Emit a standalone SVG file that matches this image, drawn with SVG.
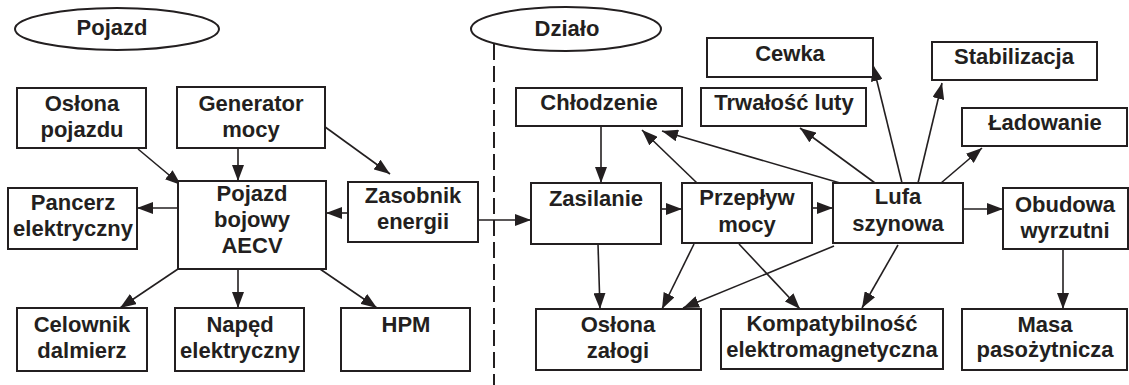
<svg xmlns="http://www.w3.org/2000/svg" width="1129" height="385" viewBox="0 0 1129 385">
<defs>
<style>
.box{fill:#fff;stroke:#231f20;stroke-width:2}
.ell{fill:#fff;stroke:#231f20;stroke-width:2}
.t{font-family:"Liberation Sans",Arial,sans-serif;font-weight:bold;font-size:22px;fill:#231f20;text-anchor:middle}
.c{fill:none;stroke:#231f20;stroke-width:1.6;marker-end:url(#ah)}
.dash{fill:none;stroke:#231f20;stroke-width:2;stroke-dasharray:16 6}
</style>
<marker id="ah" markerUnits="userSpaceOnUse" markerWidth="16" markerHeight="12" refX="16" refY="6" orient="auto">
<path d="M0,0 L16,6 L0,12 z" fill="#231f20"/>
</marker>
</defs>
<rect width="1129" height="385" fill="#fff"/>
<line class="dash" x1="494" y1="44" x2="494" y2="385"/>
<g id="connectors">
<line class="c" x1="138" y1="149" x2="181" y2="185"/>
<line class="c" x1="238" y1="148" x2="238" y2="181"/>
<line class="c" x1="321" y1="124" x2="390" y2="174"/>
<line class="c" x1="178" y1="208" x2="137" y2="208"/>
<line class="c" x1="348" y1="213" x2="326" y2="213"/>
<line class="c" x1="178" y1="269" x2="120" y2="308"/>
<line class="c" x1="238" y1="269" x2="238" y2="308"/>
<line class="c" x1="320" y1="269" x2="377" y2="308"/>
<line class="c" x1="478" y1="220" x2="531" y2="220"/>
<line class="c" x1="601" y1="126" x2="601" y2="183"/>
<line class="c" x1="661" y1="209" x2="682" y2="209"/>
<line class="c" x1="812" y1="208" x2="833" y2="208"/>
<line class="c" x1="963" y1="209" x2="1003" y2="209"/>
<line class="c" x1="697" y1="183" x2="642" y2="130"/>
<line class="c" x1="840" y1="183" x2="662" y2="131"/>
<line class="c" x1="902" y1="183" x2="873" y2="65"/>
<line class="c" x1="918" y1="183" x2="942" y2="83"/>
<line class="c" x1="875" y1="183" x2="800" y2="128"/>
<line class="c" x1="941" y1="183" x2="982" y2="148"/>
<line class="c" x1="598" y1="244" x2="600" y2="309"/>
<line class="c" x1="694" y1="244" x2="662" y2="309"/>
<line class="c" x1="834" y1="246" x2="683" y2="308"/>
<line class="c" x1="739" y1="244" x2="800" y2="309"/>
<line class="c" x1="898" y1="245" x2="862" y2="308"/>
<line class="c" x1="1063" y1="249" x2="1063" y2="309"/>
</g>
<g id="pojazd-label"><ellipse class="ell" cx="117" cy="29" rx="102" ry="21"/><text class="t" x="112" y="35">Pojazd</text></g>
<g id="dzialo-label"><ellipse class="ell" cx="566" cy="29" rx="95" ry="22"/><text class="t" x="567" y="36">Działo</text></g>
<g id="oslona-pojazdu"><rect class="box" x="17" y="88" width="129" height="60"/><text class="t" x="82" y="111">Osłona</text><text class="t" x="82" y="137">pojazdu</text></g>
<g id="generator"><rect class="box" x="177" y="87" width="148" height="61"/><text class="t" x="251" y="111">Generator</text><text class="t" x="251" y="137">mocy</text></g>
<g id="pancerz"><rect class="box" x="8" y="188" width="129" height="61"/><text class="t" x="73" y="210">Pancerz</text><text class="t" x="73" y="236">elektryczny</text></g>
<g id="pojazd-bojowy"><rect class="box" x="178" y="181" width="148" height="88"/><text class="t" x="252" y="201">Pojazd</text><text class="t" x="252" y="227">bojowy</text><text class="t" x="252" y="253">AECV</text></g>
<g id="zasobnik"><rect class="box" x="348" y="182" width="130" height="60"/><text class="t" x="413" y="203">Zasobnik</text><text class="t" x="413" y="229">energii</text></g>
<g id="celownik"><rect class="box" x="17" y="308" width="130" height="63"/><text class="t" x="82" y="332">Celownik</text><text class="t" x="82" y="358">dalmierz</text></g>
<g id="naped"><rect class="box" x="175" y="308" width="129" height="63"/><text class="t" x="240" y="332">Napęd</text><text class="t" x="240" y="358">elektryczny</text></g>
<g id="hpm"><rect class="box" x="341" y="308" width="129" height="63"/><text class="t" x="406" y="332">HPM</text></g>
<g id="chlodzenie"><rect class="box" x="516" y="88" width="166" height="38"/><text class="t" x="599" y="110">Chłodzenie</text></g>
<g id="cewka"><rect class="box" x="707" y="38" width="166" height="39"/><text class="t" x="790" y="61">Cewka</text></g>
<g id="stabilizacja"><rect class="box" x="932" y="42" width="165" height="38"/><text class="t" x="1014" y="64">Stabilizacja</text></g>
<g id="trwalosc"><rect class="box" x="701" y="88" width="165" height="38"/><text class="t" x="784" y="110">Trwałość luty</text></g>
<g id="ladowanie"><rect class="box" x="962" y="108" width="165" height="38"/><text class="t" x="1045" y="130">Ładowanie</text></g>
<g id="zasilanie"><rect class="box" x="531" y="183" width="130" height="61"/><text class="t" x="596" y="206">Zasilanie</text></g>
<g id="przeplyw"><rect class="box" x="682" y="183" width="130" height="60"/><text class="t" x="747" y="205">Przepływ</text><text class="t" x="747" y="232">mocy</text></g>
<g id="lufa"><rect class="box" x="833" y="183" width="130" height="60"/><text class="t" x="898" y="204">Lufa</text><text class="t" x="898" y="231">szynowa</text></g>
<g id="obudowa"><rect class="box" x="1003" y="188" width="125" height="61"/><text class="t" x="1065" y="212">Obudowa</text><text class="t" x="1065" y="238">wyrzutni</text></g>
<g id="oslona-zalogi"><rect class="box" x="536" y="309" width="165" height="61"/><text class="t" x="618" y="332">Osłona</text><text class="t" x="618" y="358">załogi</text></g>
<g id="kompatybilnosc"><rect class="box" x="721" y="309" width="222" height="60"/><text class="t" x="832" y="331">Kompatybilność</text><text class="t" x="832" y="357">elektromagnetyczna</text></g>
<g id="masa"><rect class="box" x="962" y="309" width="165" height="61"/><text class="t" x="1045" y="332">Masa</text><text class="t" x="1045" y="357">pasożytnicza</text></g>
</svg>
